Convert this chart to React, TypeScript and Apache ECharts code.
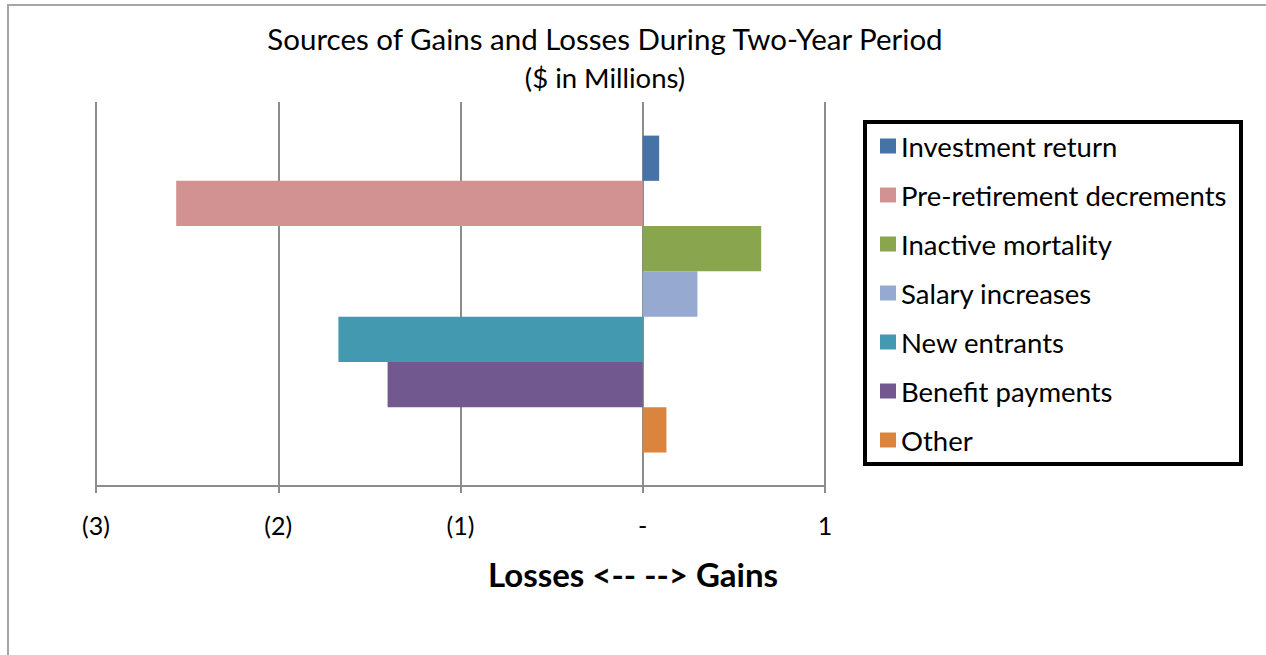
import React, { useEffect, useRef } from "react";
import * as echarts from "echarts";

const categories = ["Sources"];
const seriesNames = [
  "Investment return",
  "Pre-retirement decrements",
  "Inactive mortality",
  "Salary increases",
  "New entrants",
  "Benefit payments",
  "Other",
];
const seriesValues = [0.09, -2.56, 0.65, 0.3, -1.67, -1.4, 0.13];
const seriesColors = ["#4572A7", "#D39292", "#89A54E", "#96A9D0", "#4299B0", "#71588F", "#DB843D"];
const xTicks = [-3, -2, -1, 0, 1];
const titleText = "Sources of Gains and Losses During Two-Year Period";
const subtitleText = "($ in Millions)";
const axisTitle = "Losses <-- --> Gains";

const FONT = "Lato, 'Open Sans', sans-serif";

export default function App() {
  const ref = useRef<HTMLDivElement>(null);
  useEffect(() => {
    const chart = echarts.init(ref.current!, undefined, { renderer: "svg" });
    const fmt = (v: number) => (v < 0 ? `(${-v})` : v === 0 ? "-" : `${v}`);
    chart.setOption({
      animation: false,
      textStyle: { fontFamily: FONT },
      grid: { left: 96, right: 1266 - 825, top: 102, bottom: 655 - 486, containLabel: false },
      xAxis: {
        type: "value",
        min: xTicks[0],
        max: xTicks[xTicks.length - 1],
        interval: 1,
        axisLine: { show: true, onZero: false, lineStyle: { color: "#8c8c8c", width: 2 } },
        axisTick: { show: true, length: 7, lineStyle: { color: "#8c8c8c", width: 2 } },
        splitLine: { show: true, lineStyle: { color: "#8c8c8c", width: 2 } },
        axisLabel: { formatter: fmt, color: "#000", fontSize: 25, margin: 26, fontFamily: FONT },
      },
      yAxis: {
        type: "category",
        data: categories,
        inverse: true,
        axisLine: { show: false },
        axisTick: { show: false },
        axisLabel: { show: false },
        splitLine: { show: false },
      },
      legend: {
        orient: "vertical",
        left: 880,
        top: 131,
        padding: 0,
        itemWidth: 16,
        itemHeight: 15,
        itemGap: 19,
        icon: "rect",
        textStyle: { fontSize: 27.5, color: "#000", lineHeight: 30, fontFamily: FONT },
        data: seriesNames,
      },
      series: seriesNames.map((name, i) => ({
        name,
        type: "bar",
        barGap: "0%",
        barCategoryGap: "17.5%",
        itemStyle: { color: seriesColors[i] },
        data: [seriesValues[i]],
      })),
      graphic: [
        {
          type: "rect",
          shape: { x: 8, y: 5, width: 1400, height: 800 },
          style: { fill: "none", stroke: "#a6a6a6", lineWidth: 2 },
          silent: true,
          z: -10,
        },
        {
          type: "rect",
          shape: { x: 865, y: 122, width: 376, height: 342 },
          style: { fill: "none", stroke: "#000", lineWidth: 4 },
          silent: true,
        },
        {
          type: "text",
          x: 605,
          y: 38,
          style: { text: titleText, fontSize: 29.5, fontFamily: FONT, fill: "#000", align: "center", verticalAlign: "middle" },
        },
        {
          type: "text",
          x: 605,
          y: 77,
          style: { text: subtitleText, fontSize: 27.5, fontFamily: FONT, fill: "#000", align: "center", verticalAlign: "middle" },
        },
        {
          type: "text",
          x: 633,
          y: 574,
          style: { text: axisTitle, fontSize: 33, fontWeight: "bold", fontFamily: FONT, fill: "#000", align: "center", verticalAlign: "middle" },
        },
      ],
    });
    return () => chart.dispose();
  }, []);
  return <div ref={ref} style={{ position: "fixed", left: 0, top: 0, width: 1266, height: 655, background: "#fff" }} />;
}
